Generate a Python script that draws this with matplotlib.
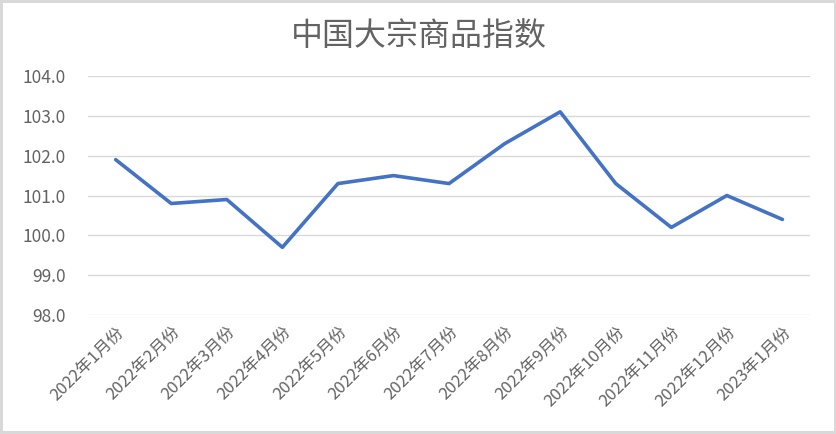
import matplotlib
matplotlib.use("Agg")
import matplotlib.pyplot as plt

plt.rcParams['font.family'] = ['Noto Sans CJK SC', 'DejaVu Sans']

# --- données ---
mois = ["2022年1月份", "2022年2月份", "2022年3月份", "2022年4月份", "2022年5月份",
        "2022年6月份", "2022年7月份", "2022年8月份", "2022年9月份", "2022年10月份",
        "2022年11月份", "2022年12月份", "2023年1月份"]
indice = [101.9, 100.8, 100.9, 99.7, 101.3, 101.5, 101.3, 102.3, 103.1, 101.3,
          100.2, 101.0, 100.4]
y_ticks = [98.0, 99.0, 100.0, 101.0, 102.0, 103.0, 104.0]

GRIS_TEXTE = '#636363'

fig = plt.figure(figsize=(8.37, 4.34), dpi=100, facecolor='white',
                 edgecolor='#d9d9d9', linewidth=3)
ax = fig.add_axes([0.105, 0.274, 0.863, 0.551])

x = list(range(len(mois)))
ax.plot(x, indice, color='#4472C4', linewidth=2.6, solid_joinstyle='round',
        solid_capstyle='round', zorder=3)

ax.set_xlim(-0.5, len(mois) - 0.5)
ax.set_ylim(98.0, 104.0)
ax.set_yticks(y_ticks)
ax.set_yticklabels([f"{v:.1f}" for v in y_ticks], fontsize=12.5, color=GRIS_TEXTE,
                   fontweight='light')
ax.set_xticks(x)
ax.set_xticklabels(mois, rotation=45, ha='right', va='top', rotation_mode='anchor',
                   fontsize=12, color=GRIS_TEXTE, fontweight='light')

ax.grid(axis='y', color='#d9d9d9', linewidth=1)
ax.set_axisbelow(True)
for s in ax.spines.values():
    s.set_visible(False)
ax.tick_params(axis='y', length=0, pad=16)
ax.tick_params(axis='x', length=0, pad=6)

fig.text(0.5, 0.915, "中国大宗商品指数", ha='center', va='center',
         fontsize=23, color=GRIS_TEXTE, fontweight='light')

fig.savefig("out.png", dpi=100, facecolor=fig.get_facecolor(),
            edgecolor=fig.get_edgecolor())
